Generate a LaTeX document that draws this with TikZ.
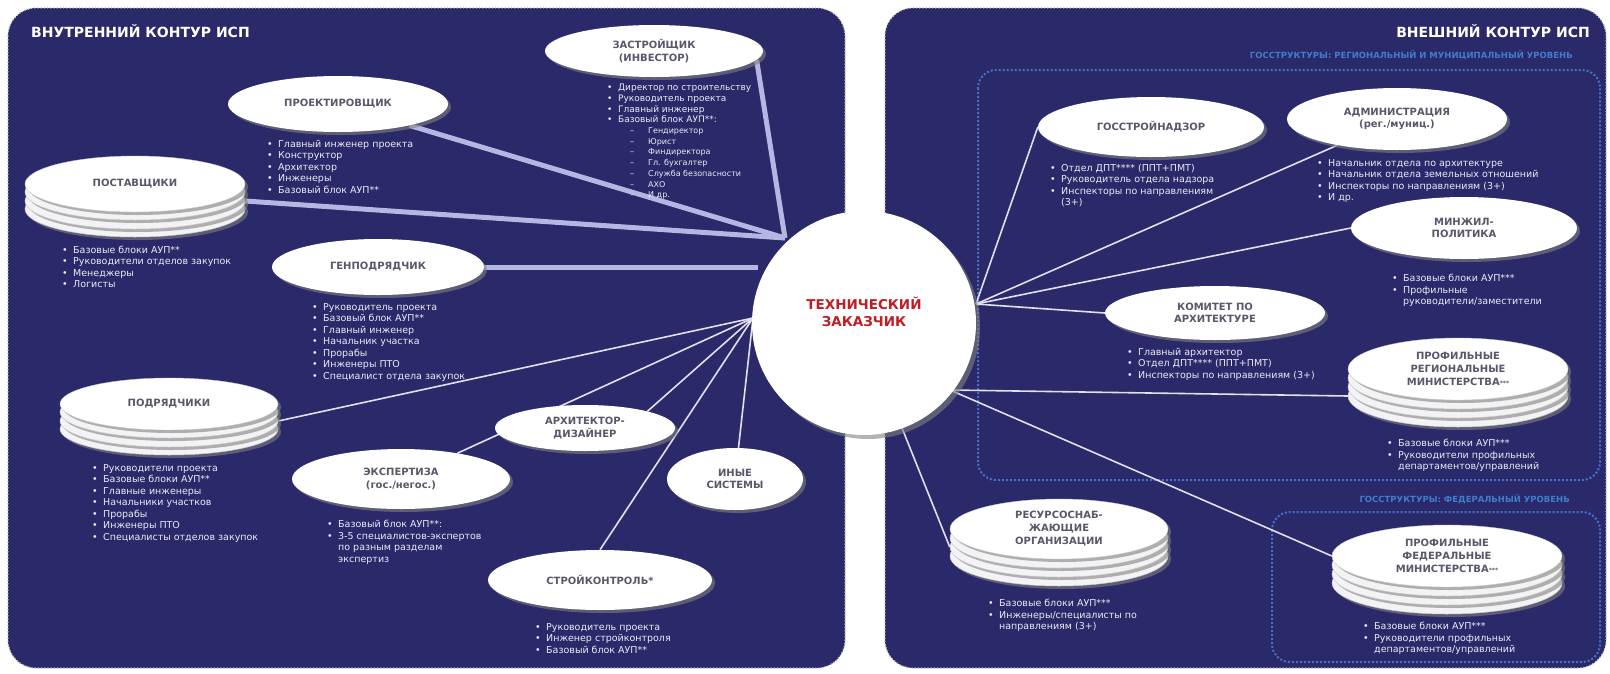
\documentclass[tikz,border=0pt]{standalone}
\usepackage{fontspec}
\setmainfont{DejaVu Sans}
\usetikzlibrary{shapes.geometric,shadows}

\definecolor{navy}{RGB}{42,41,105}
\definecolor{lavender}{RGB}{182,182,226}
\definecolor{thinwhite}{RGB}{225,225,238}
\definecolor{listwhite}{RGB}{236,236,246}
\definecolor{titlegray}{RGB}{88,88,106}
\definecolor{discgray}{RGB}{243,243,246}
\definecolor{tzred}{RGB}{190,30,36}
\definecolor{zoneblue}{RGB}{72,112,200}
\definecolor{zonetext}{RGB}{66,124,205}

\pgfdeclarelayer{back}
\pgfdeclarelayer{lines}
\pgfsetlayers{back,lines,main}

\newcommand\bul{\makebox[11pt][l]{•}}
\newcommand\dsh{\hspace*{23pt}\makebox[18pt][l]{–}}
\newcommand\bgap{\hspace*{11pt}}

\begin{document}
\begin{tikzpicture}[x=1pt,y=-1pt]

\tikzstyle{every node}=[font=\fontsize{10}{12}\selectfont]
\tikzstyle{oval}=[ellipse, fill=white, inner sep=0pt, align=center, text=titlegray,
  font=\fontsize{10}{12.5}\selectfont\bfseries,
  drop shadow={shadow xshift=3pt,shadow yshift=-3pt,opacity=0.6}]
\tikzstyle{disc}=[ellipse, fill=discgray, draw=gray!40, line width=0.5pt, inner sep=0pt,
  drop shadow={shadow xshift=3pt,shadow yshift=-3pt,opacity=0.6}]
\tikzstyle{list}=[anchor=north west, align=left, inner sep=0pt, text=listwhite,
  font=\fontsize{9.5}{11.5}\selectfont]
\tikzstyle{thickline}=[line width=5pt, draw=lavender]
\tikzstyle{thinline}=[line width=1.6pt, draw=thinwhite]
\tikzstyle{panel}=[fill=navy, draw=gray!55, dotted, line width=1.2pt, rounded corners=28pt]
\tikzstyle{zone}=[draw=zoneblue, dotted, line width=2pt, rounded corners=18pt]
\tikzstyle{paneltitle}=[text=white, font=\fontsize{14}{16}\selectfont\bfseries, inner sep=0pt]
\tikzstyle{zonetitle}=[text=zonetext, font=\fontsize{8.5}{10}\selectfont\bfseries, inner sep=0pt]

\useasboundingbox (0,0) rectangle (1610,673);

\begin{pgfonlayer}{back}
\draw[panel] (8,8) rectangle (845,668);
\draw[panel] (885,8) rectangle (1606,668);
\draw[zone] (978,70) rectangle (1600,480);
\draw[zone] (1272,512) rectangle (1600,662);
\end{pgfonlayer}

\node[paneltitle, anchor=west] (intitle) at (31,31) {ВНУТРЕННИЙ КОНТУР ИСП};
\node[paneltitle, anchor=east] (outtitle) at (1590,31) {ВНЕШНИЙ КОНТУР ИСП};
\node[zonetitle, anchor=east] (regtitle) at (1573,55) {ГОССТРУКТУРЫ: РЕГИОНАЛЬНЫЙ И МУНИЦИПАЛЬНЫЙ УРОВЕНЬ};
\node[zonetitle, anchor=east] (fedtitle) at (1570,499) {ГОССТРУКТУРЫ: ФЕДЕРАЛЬНЫЙ УРОВЕНЬ};

% center
\node[circle, fill=white, minimum size=224pt, inner sep=0pt, text=tzred,
  font=\fontsize{13.5}{17}\selectfont\bfseries,
  drop shadow={shadow xshift=4pt,shadow yshift=-4pt,opacity=0.6}] (tz) at (864,323)
  {\raisebox{5pt}[0pt][0pt]{\begin{tabular}{@{}c@{}}ТЕХНИЧЕСКИЙ\\ЗАКАЗЧИК\end{tabular}}};

\coordinate (tzN) at (785,238);
\coordinate (tzG) at (758,267);
\coordinate (tzW) at (753,318);
\coordinate (tzE) at (976,304);
\coordinate (tzSE) at (950,390);
\coordinate (tzS) at (900,423);

% inner contour
\node[oval, minimum width=218pt, minimum height=52pt] (zastr) at (654,51) {ЗАСТРОЙЩИК\\(ИНВЕСТОР)};
\node[list, font=\fontsize{9}{10.7}\selectfont] (zastrlist) at (607,84) {\bul Директор по строительству\\
  \bul Руководитель проекта\\ \bul Главный инженер\\ \bul Базовый блок АУП**:\\
  {\fontsize{8}{10.7}\selectfont\dsh Гендиректор}\\ {\fontsize{8}{10.7}\selectfont\dsh Юрист}\\
  {\fontsize{8}{10.7}\selectfont\dsh Финдиректора}\\ {\fontsize{8}{10.7}\selectfont\dsh Гл. бухгалтер}\\
  {\fontsize{8}{10.7}\selectfont\dsh Служба безопасности}\\ {\fontsize{8}{10.7}\selectfont\dsh АХО}\\
  {\fontsize{8}{10.7}\selectfont\dsh И др.}};

\node[oval, minimum width=220pt, minimum height=56pt] (proekt) at (338,104) {ПРОЕКТИРОВЩИК};
\node[list] (proektlist) at (267,140) {\bul Главный инженер проекта\\ \bul Конструктор\\
  \bul Архитектор\\ \bul Инженеры\\ \bul Базовый блок АУП**};

\foreach \d/\n in {25/3,17/2,8/1}
  \node[disc, minimum width=220pt, minimum height=56pt] (post\n) at (135,184+\d) {};
\node[oval, draw=gray!40, minimum width=220pt, minimum height=56pt] (post) at (135,184) {ПОСТАВЩИКИ};
\node[list] (postlist) at (62,245.5) {\bul Базовые блоки АУП**\\ \bul Руководители отделов закупок\\
  \bul Менеджеры\\ \bul Логисты};

\node[oval, minimum width=212pt, minimum height=56pt] (genpod) at (378,267) {ГЕНПОДРЯДЧИК};
\node[list] (genpodlist) at (312,303) {\bul Руководитель проекта\\ \bul Базовый блок АУП**\\
  \bul Главный инженер\\ \bul Начальник участка\\ \bul Прорабы\\ \bul Инженеры ПТО\\
  \bul Специалист отдела закупок};

\foreach \d/\n in {25/3,17/2,8/1}
  \node[disc, minimum width=218pt, minimum height=52pt] (podr\n) at (169,404+\d) {};
\node[oval, draw=gray!40, minimum width=218pt, minimum height=52pt] (podr) at (169,404) {ПОДРЯДЧИКИ};
\node[list] (podrlist) at (92,464) {\bul Руководители проекта\\ \bul Базовые блоки АУП**\\
  \bul Главные инженеры\\ \bul Начальники участков\\ \bul Прорабы\\ \bul Инженеры ПТО\\
  \bul Специалисты отделов закупок};

\node[oval, minimum width=218pt, minimum height=60pt] (ekspert) at (401,479) {ЭКСПЕРТИЗА\\(гос./негос.)};
\node[list] (ekspertlist) at (327,520) {\bul Базовый блок АУП**:\\ \bul 3-5 специалистов-экспертов\\
  \bgap по разным разделам\\ \bgap экспертиз};

\node[oval, minimum width=180pt, minimum height=46pt] (arhdiz) at (585,428) {АРХИТЕКТОР-\\ДИЗАЙНЕР};
\node[oval, minimum width=136pt, minimum height=62pt] (inye) at (735,479) {ИНЫЕ\\СИСТЕМЫ};

\node[oval, minimum width=224pt, minimum height=60pt] (strkon) at (600,580) {СТРОЙКОНТРОЛЬ*};
\node[list] (strkonlist) at (535,623) {\bul Руководитель проекта\\ \bul Инженер стройконтроля\\
  \bul Базовый блок АУП**};

% outer contour
\node[oval, minimum width=226pt, minimum height=60pt] (gosstroy) at (1151,127) {ГОССТРОЙНАДЗОР};
\node[list] (gosstroylist) at (1050,164) {\bul Отдел ДПТ**** (ППТ+ПМТ)\\ \bul Руководитель отдела надзора\\
  \bul Инспекторы по направлениям\\ \bgap (3+)};

\node[oval, minimum width=220pt, minimum height=62pt] (admin) at (1397,119) {АДМИНИСТРАЦИЯ\\(рег./муниц.)};
\node[list] (adminlist) at (1317,159) {\bul Начальник отдела по архитектуре\\
  \bul Начальник отдела земельных отношений\\ \bul Инспекторы по направлениям (3+)\\ \bul И др.};

\node[oval, minimum width=226pt, minimum height=62pt] (minzhil) at (1464,228) {МИНЖИЛ-\\ПОЛИТИКА};
\node[list] (minzhillist) at (1392,274) {\bul Базовые блоки АУП***\\ \bul Профильные\\
  \bgap руководители/заместители};

\node[oval, minimum width=220pt, minimum height=54pt] (komitet) at (1215,313) {КОМИТЕТ ПО\\АРХИТЕКТУРЕ};
\node[list] (komitetlist) at (1127,348) {\bul Главный архитектор\\ \bul Отдел ДПТ**** (ППТ+ПМТ)\\
  \bul Инспекторы по направлениям (3+)};

\foreach \d/\n in {27/3,18/2,9/1}
  \node[disc, minimum width=220pt, minimum height=62pt] (regmin\n) at (1458,369+\d) {};
\node[oval, draw=gray!40, minimum width=220pt, minimum height=62pt, font=\fontsize{10}{13}\selectfont\bfseries]
  (regmin) at (1458,369) {ПРОФИЛЬНЫЕ\\РЕГИОНАЛЬНЫЕ\\МИНИСТЕРСТВА{\fontsize{6}{6}\selectfont***}};
\node[list] (regminlist) at (1387,439) {\bul Базовые блоки АУП***\\ \bul Руководители профильных\\
  \bgap департаментов/управлений};

\foreach \d/\n in {27/3,18/2,9/1}
  \node[disc, minimum width=218pt, minimum height=60pt] (resurs\n) at (1059,529+\d) {};
\node[oval, draw=gray!40, minimum width=218pt, minimum height=60pt, font=\fontsize{10}{13}\selectfont\bfseries]
  (resurs) at (1059,529) {РЕСУРСОСНАБ-\\ЖАЮЩИЕ\\ОРГАНИЗАЦИИ};
\node[list] (resurslist) at (988,599) {\bul Базовые блоки АУП***\\ \bul Инженеры/специалисты по\\
  \bgap направлениям (3+)};

\foreach \d/\n in {27/3,18/2,9/1}
  \node[disc, minimum width=230pt, minimum height=62pt] (fedmin\n) at (1447,556+\d) {};
\node[oval, draw=gray!40, minimum width=230pt, minimum height=62pt, font=\fontsize{10}{13}\selectfont\bfseries]
  (fedmin) at (1447,556) {ПРОФИЛЬНЫЕ\\ФЕДЕРАЛЬНЫЕ\\МИНИСТЕРСТВА{\fontsize{6}{6}\selectfont***}};
\node[list] (fedminlist) at (1363,622) {\bul Базовые блоки АУП***\\ \bul Руководители профильных\\
  \bgap департаментов/управлений};

\begin{pgfonlayer}{lines}
\draw[thickline] (zastr.-5) -- (tzN);
\draw[thickline] (proekt) -- (tzN);
\draw[thickline] (post2.east) -- (tzN);
\draw[thickline] (genpod.east) -- (tzG);

\draw[thinline] (podr2.east) -- (tzW);
\draw[thinline] (ekspert) -- (tzW);
\draw[thinline] (arhdiz.15) -- (tzW);
\draw[thinline] (strkon.north) -- (tzW);
\draw[thinline] (inye) -- (tzW);

\draw[thinline] (gosstroy.west) -- (tzE);
\draw[thinline] (admin) -- (tzE);
\draw[thinline] (minzhil.west) -- (tzE);
\draw[thinline] (komitet.west) -- (tzE);
\draw[thinline] (regmin3.west) -- (tzSE);
\draw[thinline] (fedmin.west) -- (tzSE);
\draw[thinline] (resurs2.west) -- (tzS);
\end{pgfonlayer}

\end{tikzpicture}
\end{document}
